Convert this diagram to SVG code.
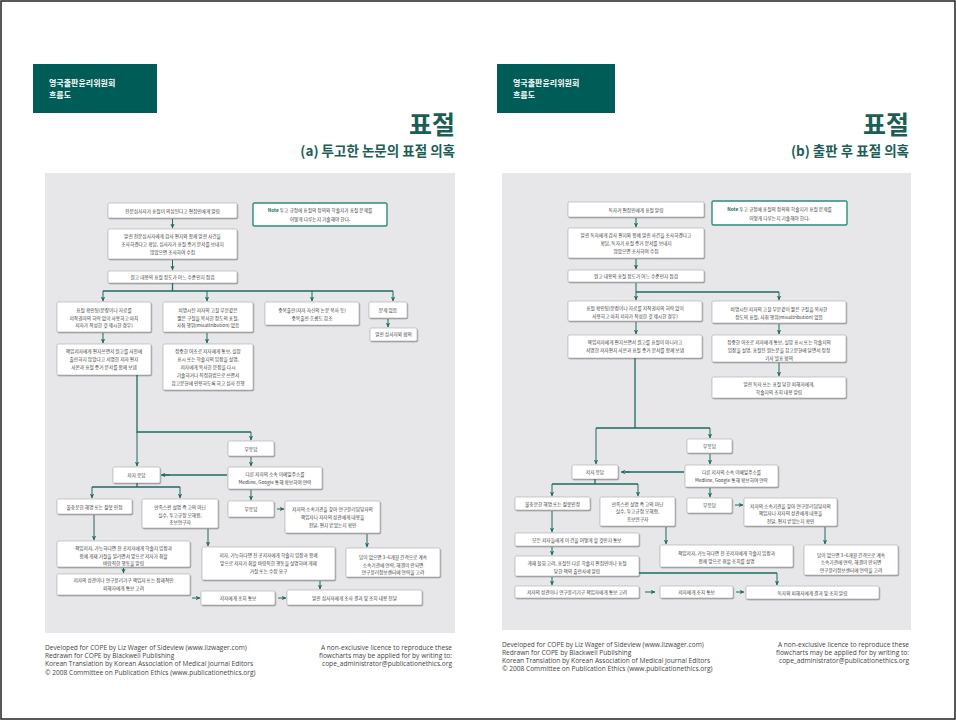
<svg xmlns="http://www.w3.org/2000/svg" width="956" height="720" viewBox="0 0 956 720">
<style>
.b{fill:#fff;stroke:#a8a8a8;stroke-width:0.6;filter:url(#sh)}
.t{font-family:"Noto Sans CJK KR","Noto Sans",sans-serif;font-size:4.7px;fill:#3a3a3a;text-anchor:middle}
.c{fill:none;stroke:#1e6b62;stroke-width:1.3}
.a{fill:none;stroke:#1e6b62;stroke-width:1;marker-end:url(#ah)}
.nb{fill:#fff;stroke:#2e8c7c;stroke-width:1.4}
.nt{font-weight:bold;fill:#1e6b62}
.hb{fill:#005c56}
.ht{font-family:"Noto Sans CJK KR",sans-serif;font-size:8px;font-weight:bold;fill:#fff}
.tt{font-family:"Noto Sans CJK KR",sans-serif;font-weight:bold;fill:#1b5e56;text-anchor:end}
.f{font-family:"Open Sans","Liberation Sans",sans-serif;font-size:6.6px;fill:#444}
.fr{text-anchor:end}
.p{fill:#e7e7e9}
</style>
<defs>
<filter id="sh" x="-10%" y="-20%" width="120%" height="150%">
<feDropShadow dx="0.7" dy="1" stdDeviation="0.5" flood-color="#555" flood-opacity="0.55"/>
</filter>
<marker id="ah" viewBox="0 0 10 10" refX="9" refY="5" markerWidth="5" markerHeight="5" markerUnits="userSpaceOnUse" orient="auto">
<path d="M0,0.5 L10,5 L0,9.5 L3,5 z" fill="#1e6b62"/>
</marker>
</defs>
<rect x="0" y="0" width="956" height="720" fill="#fff"/>
<rect x="1" y="1" width="954" height="718" fill="none" stroke="#222" stroke-width="1.5"/>

<!-- ===== Panel A ===== -->
<g id="headerA">
<rect class="hb" x="33" y="64" width="124" height="49"/>
<text class="ht" x="49" y="86">영국출판윤리위원회</text>
<text class="ht" x="49" y="98">흐름도</text>
<text class="tt" x="455" y="134" font-size="25">표절</text>
<text class="tt" x="455" y="156" font-size="13.5">(a) 투고한 논문의 표절 의혹</text>
</g>
<rect class="p" x="45" y="173" width="410" height="460"/>

<g id="a-note"><rect class="nb" x="253" y="203" width="134" height="23" rx="1.5"/>
<text class="t" x="320" y="212"><tspan class="nt">Note</tspan> 투고 규정에 표절의 정의와 학술지가 표절 문제를</text>
<text class="t" x="320" y="221">어떻게 다루는지 기술해야 한다.</text></g>

<g id="a1"><rect class="b" x="108" y="203" width="129" height="15" rx="1.5"/>
<text class="t" x="172.5" y="212.5">전문심사자가 표절이 의심된다고 편집인에게 알림</text></g>
<g id="a2"><rect class="b" x="108" y="229" width="129" height="30" rx="1.5"/>
<text class="t" x="172.5" y="238">알린 전문심사자에게 감사 편지와 함께 알린 사건을</text>
<text class="t" x="172.5" y="246">조사하겠다고 확답, 심사자가 표절 증거 문서를 보내지</text>
<text class="t" x="172.5" y="254">않았으면 조사하여 수집</text></g>
<g id="a3"><rect class="b" x="108" y="271" width="129" height="12" rx="1.5"/>
<text class="t" x="172.5" y="279">원고 내용의 표절 정도가 어느 수준인지 점검</text></g>
<g id="aA"><rect class="b" x="57" y="302" width="94" height="30" rx="1.5"/>
<text class="t" x="104" y="312">표절 확인됨(문장이나 자료를</text>
<text class="t" x="104" y="319.5">저작권자의 허락 없이 사용하고 마치</text>
<text class="t" x="104" y="327">저자가 작성한 것 제시한 경우)</text></g>
<g id="aB"><rect class="b" x="163" y="302" width="90" height="30" rx="1.5"/>
<text class="t" x="208" y="312">비명시된 저자의 고찰 부분같은</text>
<text class="t" x="208" y="319.5">짧은 구절을 복사한 정도의 표절,</text>
<text class="t" x="208" y="327">사취 행위(misattribution) 없음</text></g>
<g id="aC"><rect class="b" x="265" y="302" width="94" height="23" rx="1.5"/>
<text class="t" x="312" y="312">중복출판(저자 자신의 논문 복사 등)</text>
<text class="t" x="312" y="319.5">중복출판 흐름도 참조</text></g>
<g id="aD"><rect class="b" x="369" y="302" width="38" height="16" rx="1.5"/>
<text class="t" x="388" y="311.5">문제 없음</text></g>
<g id="aE"><rect class="b" x="370" y="328" width="47" height="13" rx="1.5"/>
<text class="t" x="393.5" y="336">알린 심사자와 협의</text></g>
<g id="aA2"><rect class="b" x="57" y="344" width="94" height="31" rx="1.5"/>
<text class="t" x="104" y="353">책임저자에게 편지쓰면서 원고를 사전에</text>
<text class="t" x="104" y="361">출판하지 않았다고 서명한 저자 편지</text>
<text class="t" x="104" y="369">사본과 표절 증거 문서를 함께 보냄</text></g>
<g id="aB2"><rect class="b" x="163" y="344" width="90" height="46" rx="1.5"/>
<text class="t" x="208" y="353">정중한 어조로 저자에게 통보, 실망</text>
<text class="t" x="208" y="361">표시 또는 학술지의 입장을 설명,</text>
<text class="t" x="208" y="369">저자에게 복사한 문장을 다시</text>
<text class="t" x="208" y="377">기술하거나 직접화법으로 쓰면서</text>
<text class="t" x="208" y="385">참고문헌에 인용하도록 하고 심사 진행</text></g>
<g id="aNR1"><rect class="b" x="228" y="441" width="46" height="15" rx="1.5"/>
<text class="t" x="251" y="450.5">무응답</text></g>
<g id="aOther"><rect class="b" x="228" y="467" width="94" height="22" rx="1.5"/>
<text class="t" x="275" y="476">다른 저자의 소속 이메일주소를</text>
<text class="t" x="275" y="484">Medline, Google 통해 확보하여 연락</text></g>
<g id="aResp"><rect class="b" x="113" y="467" width="47" height="16" rx="1.5"/>
<text class="t" x="136.5" y="477">저자 응답</text></g>
<g id="aNR2"><rect class="b" x="228" y="501" width="46" height="16" rx="1.5"/>
<text class="t" x="251" y="511">무응답</text></g>
<g id="aInst"><rect class="b" x="285" y="501" width="95" height="32" rx="1.5"/>
<text class="t" x="332.5" y="510.5">저자의 소속기관을 찾아 연구윤리담당자의</text>
<text class="t" x="332.5" y="518.5">책임자나 저자의 상관에게 내용을</text>
<text class="t" x="332.5" y="526.5">전달, 편지 받았는지 확인</text></g>
<g id="aUnsat"><rect class="b" x="57" y="499" width="75" height="15" rx="1.5"/>
<text class="t" x="94.5" y="508.5">불충분한 해명 또는 잘못 인정</text></g>
<g id="aSat"><rect class="b" x="142" y="499" width="76" height="29" rx="1.5"/>
<text class="t" x="180" y="509">만족스런 설명 즉 고의 아닌</text>
<text class="t" x="180" y="516.5">실수, 투고규정 오해함,</text>
<text class="t" x="180" y="524">초보연구자</text></g>
<g id="aReject"><rect class="b" x="57" y="541" width="133" height="26" rx="1.5"/>
<text class="t" x="123.5" y="550">책임저자, 가능하다면 전 공저자에게 학술지 입장과</text>
<text class="t" x="123.5" y="557.5">함께 게재 거절을 알리면서 앞으로 저자가 취할</text>
<text class="t" x="123.5" y="565">바람직한 행동을 알림</text></g>
<g id="aBoss"><rect class="b" x="57" y="574" width="133" height="21" rx="1.5"/>
<text class="t" x="123.5" y="582">저자의 상관이나 연구윤리기구 책임자 또는 잠재적인</text>
<text class="t" x="123.5" y="590">피해자에게 통보 고려</text></g>
<g id="aInform"><rect class="b" x="201" y="591" width="74" height="14" rx="1.5"/>
<text class="t" x="238" y="600">저자에게 조치 통보</text></g>
<g id="aResult"><rect class="b" x="287" y="590" width="135" height="15" rx="1.5"/>
<text class="t" x="354.5" y="599.5">알린 심사자에게 조사 결과 및 조치 내용 전달</text></g>
<g id="aExplain"><rect class="b" x="202" y="547" width="133" height="33" rx="1.5"/>
<text class="t" x="268.5" y="557">저자, 가능하다면 전 공저자에게 학술지 입장과 함께</text>
<text class="t" x="268.5" y="565">앞으로 저자가 취할 바람직한 행동을 설명하며 게재</text>
<text class="t" x="268.5" y="573">거절 또는 수정 요구</text></g>
<g id="aNoAns"><rect class="b" x="346" y="548" width="94" height="29" rx="1.5"/>
<text class="t" x="393" y="559">답이 없으면 3~6개월 간격으로 계속</text>
<text class="t" x="393" y="566.5">소속기관에 연락, 해결이 안되면</text>
<text class="t" x="393" y="574">연구윤리정보센터에 연락을 고려</text></g>

<g id="footerA">
<text class="f" x="45" y="650">Developed for COPE by Liz Wager of Sideview (www.lizwager.com)</text>
<text class="f" x="45" y="658">Redrawn for COPE by Blackwell Publishing</text>
<text class="f" x="45" y="666">Korean Translation by Korean Association of Medical Journal Editors</text>
<text class="f" x="45" y="675">© 2008 Committee on Publication Ethics (www.publicationethics.org)</text>
<text class="f fr" x="452" y="650">A non-exclusive licence to reproduce these</text>
<text class="f fr" x="452" y="658">flowcharts may be applied for by writing to:</text>
<text class="f fr" x="452" y="666">cope_administrator@publicationethics.org</text>
</g>

<!-- ===== Panel B ===== -->
<g id="headerB">
<rect class="hb" x="497" y="64" width="118" height="49"/>
<text class="ht" x="513" y="86">영국출판윤리위원회</text>
<text class="ht" x="513" y="98">흐름도</text>
<text class="tt" x="909" y="134" font-size="25">표절</text>
<text class="tt" x="909" y="156" font-size="13.5">(b) 출판 후 표절 의혹</text>
</g>
<rect class="p" x="502" y="173" width="409" height="457"/>

<g id="b-note"><rect class="nb" x="712" y="201" width="135" height="24" rx="1.5"/>
<text class="t" x="779.5" y="210.5"><tspan class="nt">Note</tspan> 투고 규정에 표절의 정의와 학술지가 표절 문제를</text>
<text class="t" x="779.5" y="219.5">어떻게 다루는지 기술해야 한다.</text></g>

<g id="b1"><rect class="b" x="568" y="202" width="136" height="15" rx="1.5"/>
<text class="t" x="636" y="211.5">독자가 편집인에게 표절 알림</text></g>
<g id="b2"><rect class="b" x="568" y="228" width="136" height="30" rx="1.5"/>
<text class="t" x="636" y="237">알린 독자에게 감사 편지와 함께 알린 사건을 조사하겠다고</text>
<text class="t" x="636" y="245">확답, 독자가 표절 증거 문서를 보내지</text>
<text class="t" x="636" y="253">않았으면 조사하여 수집</text></g>
<g id="b3"><rect class="b" x="568" y="270" width="136" height="12" rx="1.5"/>
<text class="t" x="636" y="278">원고 내용의 표절 정도가 어느 수준인지 점검</text></g>
<g id="bA"><rect class="b" x="568" y="301" width="134" height="20" rx="1.5"/>
<text class="t" x="635" y="310">표절 확인됨(문장이나 자료를 저작권자의 허락 없이</text>
<text class="t" x="635" y="317.5">사용하고 마치 저자가 작성한 것 제시한 경우)</text></g>
<g id="bB"><rect class="b" x="712" y="301" width="134" height="22" rx="1.5"/>
<text class="t" x="779" y="310.5">비명시된 저자의 고찰 부분같이 짧은 구절을 복사한</text>
<text class="t" x="779" y="319">정도의 표절, 사취 행위(misattribution) 없음</text></g>
<g id="bA2"><rect class="b" x="568" y="335" width="134" height="23" rx="1.5"/>
<text class="t" x="635" y="344">책임저자에게 편지쓰면서 원고를 표절이 아니라고</text>
<text class="t" x="635" y="352">서명한 저자편지 사본과 표절 증거 문서를 함께 보냄</text></g>
<g id="bB2"><rect class="b" x="712" y="335" width="134" height="27" rx="1.5"/>
<text class="t" x="779" y="343.5">정중한 어조로 저자에게 통보, 실망 표시 또는 학술지의</text>
<text class="t" x="779" y="351.5">입장을 설명, 표절된 원논문을 참고문헌에 달면서 정정</text>
<text class="t" x="779" y="359.5">기사 발표 협의</text></g>
<g id="bB3"><rect class="b" x="712" y="377" width="134" height="21" rx="1.5"/>
<text class="t" x="779" y="385.5">알린 독자 또는 표절 당한 피해자에게,</text>
<text class="t" x="779" y="393.5">학술지의 조치 내용 알림</text></g>
<g id="bNR1"><rect class="b" x="687" y="439" width="45" height="14" rx="1.5"/>
<text class="t" x="709.5" y="448">무응답</text></g>
<g id="bOther"><rect class="b" x="685" y="465" width="93" height="22" rx="1.5"/>
<text class="t" x="731.5" y="474">다른 저자의 소속 이메일주소를</text>
<text class="t" x="731.5" y="482">Medline, Google 통해 확보하여 연락</text></g>
<g id="bResp"><rect class="b" x="572" y="465" width="46" height="14" rx="1.5"/>
<text class="t" x="595" y="474">저자 응답</text></g>
<g id="bUnsat"><rect class="b" x="515" y="497" width="75" height="13" rx="1.5"/>
<text class="t" x="552.5" y="505.5">불충분한 해명 또는 잘못인정</text></g>
<g id="bSat"><rect class="b" x="600" y="497" width="75" height="29" rx="1.5"/>
<text class="t" x="637.5" y="505.5">만족스런 설명 즉 고의 아닌</text>
<text class="t" x="637.5" y="513">실수, 투고규정 오해함,</text>
<text class="t" x="637.5" y="520.5">초보연구자</text></g>
<g id="bNR2"><rect class="b" x="687" y="498" width="45" height="15" rx="1.5"/>
<text class="t" x="709.5" y="507">무응답</text></g>
<g id="bInst"><rect class="b" x="744" y="498" width="93" height="28" rx="1.5"/>
<text class="t" x="790.5" y="507.5">저자의 소속기관을 찾아 연구윤리담당자의</text>
<text class="t" x="790.5" y="515">책임자나 저자의 상관에게 내용을</text>
<text class="t" x="790.5" y="522.5">전달, 편지 받았는지 확인</text></g>
<g id="bAll"><rect class="b" x="515" y="533" width="124" height="13" rx="1.5"/>
<text class="t" x="577" y="541.5">모든 저자들에게 이 건을 어떻게 할 것인지 통보</text></g>
<g id="bRetract"><rect class="b" x="515" y="556" width="124" height="20" rx="1.5"/>
<text class="t" x="577" y="565">게재 철회 고려, 표절된 다른 학술지 편집인이나 표절</text>
<text class="t" x="577" y="572.5">당한 책의 출판사에 알림</text></g>
<g id="bBoss"><rect class="b" x="515" y="586" width="124" height="12" rx="1.5"/>
<text class="t" x="577" y="594">저자의 상관이나 연구윤리기구 책임자에게 통보 고려</text></g>
<g id="bInform"><rect class="b" x="660" y="586" width="73" height="12" rx="1.5"/>
<text class="t" x="696.5" y="594">저자에게 조치 통보</text></g>
<g id="bResult"><rect class="b" x="746" y="586" width="133" height="13" rx="1.5"/>
<text class="t" x="812.5" y="594.5">독자와 피해자에게 결과 및 조치 알림</text></g>
<g id="bExplain"><rect class="b" x="660" y="545" width="133" height="22" rx="1.5"/>
<text class="t" x="726.5" y="555">책임저자, 가능하다면 전 공저자에게 학술지 입장과</text>
<text class="t" x="726.5" y="563">함께 앞으로 취할 조치를 설명</text></g>
<g id="bNoAns"><rect class="b" x="804" y="545" width="94" height="30" rx="1.5"/>
<text class="t" x="851" y="556.5">답이 없으면 3~6개월 간격으로 계속</text>
<text class="t" x="851" y="564">소속기관에 연락, 해결이 안되면</text>
<text class="t" x="851" y="571.5">연구윤리정보센터에 연락을 고려</text></g>

<g id="footerB">
<text class="f" x="502" y="647">Developed for COPE by Liz Wager of Sideview (www.lizwager.com)</text>
<text class="f" x="502" y="655">Redrawn for COPE by Blackwell Publishing</text>
<text class="f" x="502" y="663">Korean Translation by Korean Association of Medical Journal Editors</text>
<text class="f" x="502" y="671">© 2008 Committee on Publication Ethics (www.publicationethics.org)</text>
<text class="f fr" x="909" y="647">A non-exclusive licence to reproduce these</text>
<text class="f fr" x="909" y="655">flowcharts may be applied for by writing to:</text>
<text class="f fr" x="909" y="663">cope_administrator@publicationethics.org</text>
</g>

<!-- ===== Connectors ===== -->
<g id="connectors">
<!-- panel A -->
<line class="a" x1="172.5" y1="219" x2="172.5" y2="228"/>
<line class="a" x1="172.5" y1="260" x2="172.5" y2="270"/>
<path class="c" d="M172.5,283 V291 M103,291 H393"/>
<line class="a" x1="103" y1="291" x2="103" y2="301"/>
<line class="a" x1="207" y1="291" x2="207" y2="301"/>
<line class="a" x1="312" y1="291" x2="312" y2="301"/>
<line class="a" x1="393" y1="291" x2="393" y2="301"/>
<line class="a" x1="388" y1="319" x2="388" y2="327"/>
<line class="a" x1="103" y1="333" x2="103" y2="343"/>
<line class="a" x1="207" y1="333" x2="207" y2="343"/>
<path class="c" d="M137,375 V432 H251"/>
<line class="a" x1="137" y1="432" x2="137" y2="466" stroke-width="1.3"/>
<line class="a" x1="251" y1="432" x2="251" y2="440"/>
<line class="a" x1="251" y1="457" x2="251" y2="466"/>
<line class="c" x1="227" y1="475" x2="163" y2="475"/>
<line class="a" x1="170" y1="475" x2="161" y2="475"/>
<line class="a" x1="251" y1="490" x2="251" y2="500"/>
<line class="a" x1="277" y1="509" x2="284" y2="509"/>
<path class="c" d="M137,483 V487 M92,487 H180"/>
<line class="a" x1="92" y1="487" x2="92" y2="498"/>
<line class="a" x1="180" y1="487" x2="180" y2="498"/>
<line class="a" x1="94" y1="515" x2="94" y2="540"/>
<line class="a" x1="123.5" y1="568" x2="123.5" y2="573"/>
<line class="a" x1="192" y1="598" x2="200" y2="598"/>
<line class="a" x1="278" y1="598" x2="286" y2="598"/>
<line class="a" x1="208" y1="529" x2="208" y2="546"/>
<line class="a" x1="320" y1="581" x2="320" y2="589"/>
<line class="a" x1="367" y1="534" x2="367" y2="547"/>
<!-- panel B -->
<line class="a" x1="636" y1="218" x2="636" y2="227"/>
<line class="a" x1="636" y1="259" x2="636" y2="269"/>
<path class="c" d="M636,292 H779"/>
<line class="a" x1="636" y1="283" x2="636" y2="300"/>
<line class="a" x1="779" y1="292" x2="779" y2="300"/>
<line class="a" x1="636" y1="322" x2="636" y2="334"/>
<line class="a" x1="779" y1="324" x2="779" y2="334"/>
<line class="a" x1="779" y1="363" x2="779" y2="376"/>
<path class="c" d="M635,358 V428 M596,428 H710"/>
<line class="a" x1="596" y1="428" x2="596" y2="464" stroke-width="1.3"/>
<line class="a" x1="710" y1="428" x2="710" y2="438"/>
<line class="a" x1="710" y1="454" x2="710" y2="464"/>
<line class="c" x1="684" y1="472" x2="625" y2="472"/>
<line class="a" x1="630" y1="472" x2="621" y2="472"/>
<path class="c" d="M595,479 V484 M552,484 H638"/>
<line class="a" x1="552" y1="484" x2="552" y2="496"/>
<line class="a" x1="638" y1="484" x2="638" y2="496"/>
<line class="a" x1="710" y1="488" x2="710" y2="497"/>
<line class="a" x1="735" y1="505" x2="743" y2="505"/>
<line class="a" x1="552" y1="511" x2="552" y2="532"/>
<line class="a" x1="552" y1="547" x2="552" y2="555"/>
<line class="a" x1="552" y1="577" x2="552" y2="585"/>
<path class="c" d="M639,573 H777"/>
<line class="a" x1="777" y1="573" x2="777" y2="585"/>
<line class="a" x1="645" y1="592" x2="655" y2="592"/>
<line class="a" x1="736" y1="592" x2="744" y2="592"/>
<line class="a" x1="666" y1="527" x2="666" y2="544"/>
<line class="a" x1="825" y1="527" x2="825" y2="544"/>
</g>
</svg>
